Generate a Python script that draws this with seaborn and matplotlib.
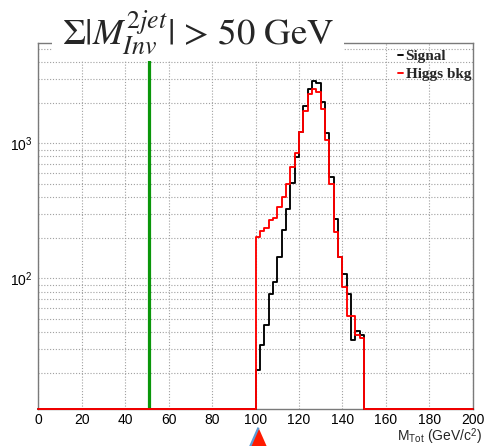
import numpy as np
import pandas as pd
import matplotlib
matplotlib.use("Agg")
import matplotlib.pyplot as plt
import matplotlib.transforms as mtransforms
from matplotlib.patches import Rectangle
from matplotlib.lines import Line2D
from matplotlib.ticker import FixedLocator, MultipleLocator, LogLocator, NullFormatter, FixedFormatter
import seaborn as sns

# Histogram binning: 2 GeV bins over 0-200 GeV, populated only between 100 and 150 GeV
bin_width = 2
x_range = (0, 200)
filled_start = 100

# Bin contents for 100-102, 102-104, ..., 148-150 GeV
signal_counts = [21, 32, 45, 77, 94, 143, 228, 324, 511, 796, 1219, 1888, 2512,
                 2892, 2780, 2013, 1186, 566, 274, 143, 107, 77, 35, 41, 38]
higgs_bkg_counts = [201, 225, 237, 270, 281, 339, 398, 500, 671, 844, 1219, 1742, 2318,
                    2512, 2410, 1787, 1057, 500, 221, 143, 87, 53, 53, 38, 36]

series_labels = ["Signal", "Higgs bkg"]
series_colors = ["black", "#ff0000"]

x_tick_values = list(range(0, 201, 20))
y_tick_values = [100, 1000]
y_tick_labels = [r"$\mathregular{10^{2}}$", r"$\mathregular{10^{3}}$"]
y_limits = (10.8, 5530)

cut_value = 51        # vertical cut line
arrow_x = 101         # marker under the axis
title_text = r"$\Sigma|M^{2jet}_{Inv}|$ > 50 GeV"
xlabel_text = r"M$_{\mathregular{Tot}}$ (GeV/c$^{\mathregular{2}}$)"

# ---------------------------------------------------------------------------
edges = np.arange(x_range[0], x_range[1] + bin_width, bin_width)
centers = edges[:-1] + bin_width / 2
first = int((filled_start - x_range[0]) / bin_width)

frames = []
for label, counts in zip(series_labels, [signal_counts, higgs_bkg_counts]):
    full = np.zeros(len(centers))
    full[first:first + len(counts)] = counts
    frames.append(pd.DataFrame({"mass": centers, "entries": full, "sample": label}))
df = pd.concat(frames, ignore_index=True)
# empty bins are drawn along the lower edge of the log axis
df["drawn"] = np.maximum(df["entries"], y_limits[0])

sns.set_style("white")
plt.rcParams["font.family"] = ["Liberation Sans", "DejaVu Sans"]
plt.rcParams["mathtext.fontset"] = "stix"

fig = plt.figure(figsize=(4.85, 4.46), dpi=100)
ax = fig.add_axes([0.079, 0.083, 0.8957, 0.8206])

for label, color in zip(series_labels, series_colors):
    sub = df[df["sample"] == label]
    sns.histplot(data=sub, x="mass", weights="drawn",
                 binwidth=bin_width, binrange=x_range, element="step", fill=False,
                 color=color, linewidth=1.35, ax=ax, zorder=4)
for line in ax.lines:
    line.set_clip_on(False)

ax.set_yscale("log")
ax.set_xlim(*x_range)
ax.set_ylim(*y_limits)
ax.set_xlabel("")
ax.set_ylabel("")

ax.xaxis.set_major_locator(FixedLocator(x_tick_values))
ax.xaxis.set_minor_locator(MultipleLocator(5))
ax.yaxis.set_major_locator(FixedLocator(y_tick_values))
ax.yaxis.set_major_formatter(FixedFormatter(y_tick_labels))
ax.yaxis.set_minor_locator(LogLocator(base=10, subs=np.arange(2, 10)))
ax.yaxis.set_minor_formatter(NullFormatter())

axis_gray = "#7a7a7a"
ax.tick_params(axis="both", which="both", direction="in", color=axis_gray,
               labelcolor="black", top=False, right=False, labelsize=10, width=1)
ax.tick_params(axis="x", which="major", length=7.5, pad=3)
ax.tick_params(axis="x", which="minor", length=3.8)
ax.tick_params(axis="y", which="major", length=9.5, pad=4)
ax.tick_params(axis="y", which="minor", length=5)

grid_kw = dict(color="#a0a0a0", linestyle=(0, (1, 1.6)), linewidth=0.8)
ax.grid(axis="x", which="major", **grid_kw)
ax.grid(axis="y", which="both", **grid_kw)
ax.set_axisbelow(True)

for side in ax.spines.values():
    side.set_color(axis_gray)
    side.set_linewidth(1.0)

ax.axvline(cut_value, color="#0a960a", linewidth=2.3, zorder=3)

# axis title, right-aligned just past the frame corner
px_to_ax_x = lambda px: (px - 38.3) / 434.4
px_to_ax_y = lambda py: (409 - py) / 366
ax.text(px_to_ax_x(482), px_to_ax_y(441), xlabel_text, transform=ax.transAxes,
        ha="right", va="baseline", fontsize=10)

handles = [Line2D([], [], color=c, linewidth=1.35) for c in series_colors]
ax.legend(handles, series_labels, loc="upper left", bbox_to_anchor=(0.813, 1.0),
          frameon=False, handlelength=0.35, handletextpad=0.15, labelspacing=0.28,
          borderaxespad=0.0, borderpad=0.42,
          prop={"family": "Liberation Serif", "weight": "bold", "size": 11})

# title sits on a white band that interrupts the frame
fig.add_artist(Rectangle((52 / 485, 1 - 61 / 446), (344 - 52) / 485, 61 / 446,
                         transform=fig.transFigure, facecolor="white",
                         edgecolor="none", zorder=5))
fig.text(198 / 485, 1 - 45 / 446, title_text, ha="center", va="baseline",
         fontsize=26.5, family="STIXGeneral", zorder=6)

# upward arrow marker below the axis
blend = mtransforms.blended_transform_factory(ax.transData, fig.transFigure)
ax.plot([arrow_x], [1 - 441 / 446], transform=blend, clip_on=False,
        marker=[(0, 1), (-0.88, -1), (0.88, -1)], markersize=20,
        markerfacecolor="#ff1a00", markeredgecolor="#5b9bd5", markeredgewidth=1.6,
        linestyle="none", zorder=6)

fig.savefig("out.png", dpi=100)
